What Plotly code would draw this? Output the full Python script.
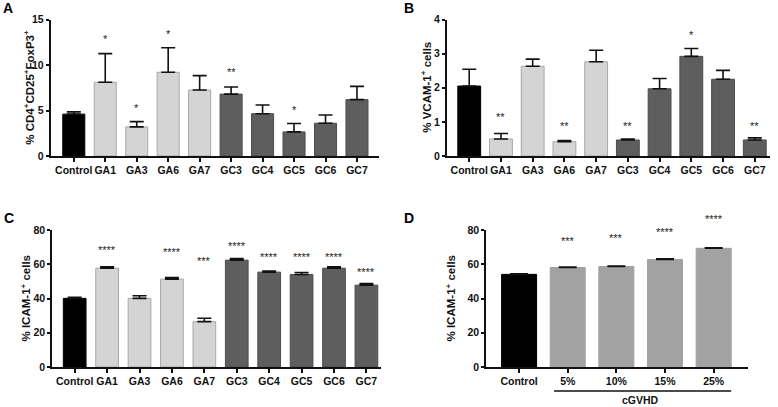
import plotly.graph_objects as go

# ---------------- data ----------------
cats = ["Control", "GA1", "GA3", "GA6", "GA7", "GC3", "GC4", "GC5", "GC6", "GC7"]

A_vals = [4.6, 8.1, 3.2, 9.2, 7.25, 6.8, 4.65, 2.65, 3.6, 6.2]
A_err = [0.25, 3.15, 0.58, 2.7, 1.58, 0.78, 0.95, 0.92, 0.9, 1.45]
A_sig = ["", "*", "*", "*", "", "**", "", "*", "", ""]
A_sig_y = [None, 12.9, 5.3, 13.4, None, 9.2, None, 5.1, None, None]

B_vals = [2.05, 0.5, 2.63, 0.42, 2.76, 0.47, 1.97, 2.92, 2.25, 0.47]
B_err = [0.49, 0.16, 0.21, 0.03, 0.34, 0.03, 0.3, 0.23, 0.26, 0.06]
B_sig = ["", "**", "", "**", "", "**", "", "*", "", "**"]
B_sig_y = [None, 1.13, None, 0.87, None, 0.87, None, 3.55, None, 0.89]

C_vals = [40.1, 57.7, 40.1, 51.3, 26.5, 62.4, 55.4, 54.0, 57.7, 47.8]
C_err = [0.6, 0.8, 1.5, 1.0, 2.0, 0.9, 0.6, 1.2, 0.8, 1.0]
C_sig = ["", "****", "", "****", "***", "****", "****", "****", "****", "****"]
C_sig_y = [None, 68.4, None, 67.4, 62.0, 70.9, 64.1, 64.1, 64.5, 55.6]

D_cats = ["Control", "5%", "10%", "15%", "25%"]
D_vals = [54.1, 58.1, 58.7, 62.8, 69.3]
D_err = [0.3, 0.3, 0.3, 0.4, 0.3]
D_sig = ["", "***", "***", "****", "****"]
D_sig_y = [None, 73.4, 75.5, 78.8, 86.4]
D_group = "cGVHD"

# ---------------- styling ----------------
W, H = 778, 407
FONT = "Liberation Sans, Arial, sans-serif"
INK = "#111111"


def fill_for(c, panel):
    if c == "Control":
        return "#000000", "#000000"
    if panel == "4":
        return "#a2a2a2", "#a2a2a2"
    if c.startswith("GA"):
        return "#d4d4d4", "#a8a8a8"
    return "#5e5e5e", "#4c4c4c"


def px_x(p):
    return p / W


def px_y(p):
    return 1 - p / H


fig = go.Figure()

panels = [
    ("", cats, A_vals, A_err, A_sig, A_sig_y, (50.5, 379), (19.5, 156), (-0.74, 9.70), (0, 15), 5, 0.70, 7,
     "% CD4<sup>+</sup>CD25<sup>+</sup>FoxP3<sup>+</sup>", 29, "A", (8, 8)),
    ("2", cats, B_vals, B_err, B_sig, B_sig_y, (446.7, 770), (19.5, 156), (-0.71, 9.48), (0, 4), 1, 0.72, 7,
     "% VCAM-1<sup>+</sup> cells", 426, "B", (409, 8)),
    ("3", cats, C_vals, C_err, C_sig, C_sig_y, (52, 381), (230, 367), (-0.70, 9.45), (0, 80), 20, 0.70, 7,
     "% ICAM-1<sup>+</sup> cells", 25, "C", (9, 218)),
    ("4", D_cats, D_vals, D_err, D_sig, D_sig_y, (486, 747.7), (230, 367), (-0.68, 4.70), (0, 80), 20, 0.72, 9,
     "% ICAM-1<sup>+</sup> cells", 450, "D", (409, 218)),
]

annotations = []
for (sfx, pc, pv, pe, ps, psy, xd, yd, xr, yr, dt, bw, capw, ytitle, tx, letter, lpos) in panels:
    fills = [fill_for(c, sfx)[0] for c in pc]
    lines = [fill_for(c, sfx)[1] for c in pc]
    fig.add_trace(go.Bar(
        x=pc, y=pv, width=bw,
        marker=dict(color=fills, line=dict(color=lines, width=1)),
        error_y=dict(type="data", array=pe, arrayminus=[0] * len(pe), symmetric=False,
                     color=INK, thickness=1.6, width=capw),
        xaxis="x" + sfx, yaxis="y" + sfx, showlegend=False, hoverinfo="skip",
        cliponaxis=False,
    ))
    # significance stars (y given in data units, placed via the axis domain)
    for c, s, sy in zip(pc, ps, psy):
        if s and sy is not None:
            annotations.append(dict(
                x=c, xref="x" + sfx,
                y=(sy - yr[0]) / (yr[1] - yr[0]), yref="y" + sfx + " domain",
                text=s, showarrow=False, xanchor="center", yanchor="middle",
                font=dict(family=FONT, size=11, color="#222222")))
    xa = dict(domain=[px_x(xd[0]), px_x(xd[1])], range=list(xr), type="category",
              showline=True, linecolor=INK, linewidth=1.6, ticks="outside",
              ticklen=4, tickwidth=1.5, tickcolor=INK, showgrid=False, zeroline=False,
              tickangle=0, automargin=False,
              tickfont=dict(family=FONT, size=10.5, color=INK, weight="bold"),
              anchor="y" + sfx, fixedrange=True)
    ya = dict(domain=[px_y(yd[1]), px_y(yd[0])], range=list(yr), dtick=dt, tick0=0,
              showline=True, linecolor=INK, linewidth=1.6, ticks="outside",
              ticklen=3, tickwidth=1.5, tickcolor=INK, showgrid=False, zeroline=False,
              automargin=False,
              tickfont=dict(family=FONT, size=10.5, color=INK, weight="bold"),
              anchor="x" + sfx, fixedrange=True)
    fig.update_layout(**{"xaxis" + sfx: xa, "yaxis" + sfx: ya})

    # y-axis title
    annotations.append(dict(x=px_x(tx), y=px_y((yd[0] + yd[1]) / 2), xref="paper", yref="paper",
                            text=ytitle, textangle=-90, showarrow=False,
                            xanchor="center", yanchor="middle",
                            font=dict(family=FONT, size=11.5, color=INK, weight="bold")))
    # panel letter
    annotations.append(dict(x=px_x(lpos[0]), y=px_y(lpos[1]), xref="paper", yref="paper",
                            text=letter, showarrow=False, xanchor="center", yanchor="middle",
                            font=dict(family=FONT, size=14, color="#000000", weight="bold")))

# cGVHD group label in panel D
annotations.append(dict(x=2.5, y=px_y(400), xref="x4", yref="paper", text=D_group,
                        showarrow=False, xanchor="center", yanchor="middle",
                        font=dict(family=FONT, size=10.5, color=INK, weight="bold")))

fig.update_layout(
    template="none",
    width=W, height=H,
    margin=dict(l=0, r=0, t=0, b=0, pad=0),
    paper_bgcolor="white", plot_bgcolor="white",
    annotations=annotations,
    shapes=[dict(type="line", xref="x4", yref="paper", x0=0.72, x1=4.36,
                 y0=px_y(391), y1=px_y(391), line=dict(color=INK, width=1.5))],
)

fig.write_html("out.html", config={"displayModeBar": False},
               post_script="document.body.style.margin='0';document.body.style.overflow='hidden';")
